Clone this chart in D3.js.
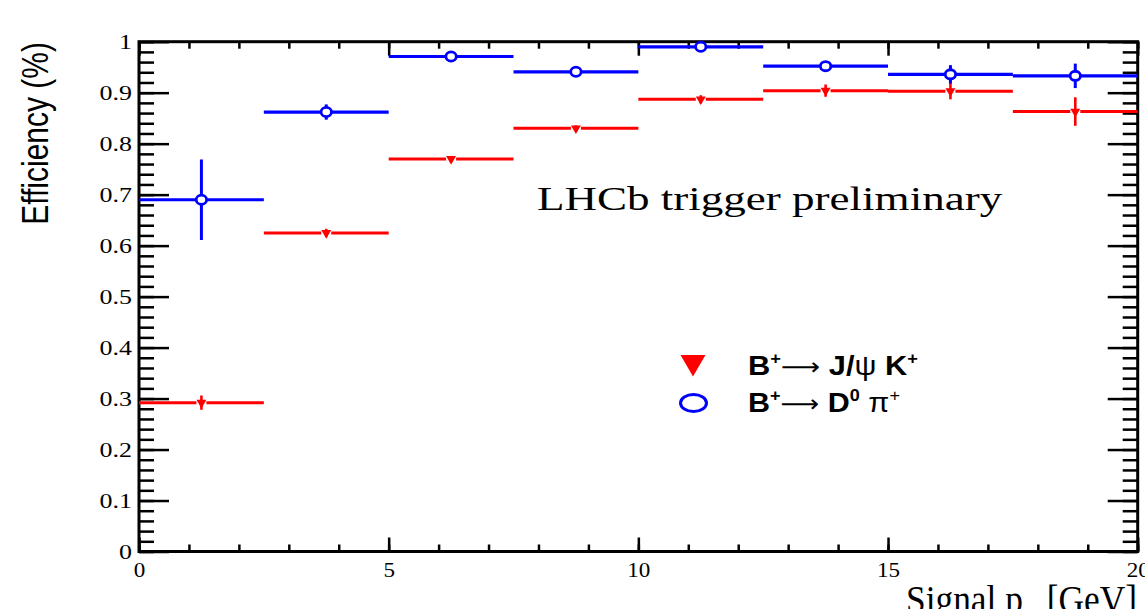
<!DOCTYPE html>
<html>
<head>
<meta charset="utf-8">
<script src="https://cdn.jsdelivr.net/npm/d3@7"></script>
<style>
  html, body { margin: 0; padding: 0; background: #fff; }
  svg { display: block; }
</style>
</head>
<body>
<svg id="chart" width="1145" height="609"></svg>
<script>
// Trigger efficiency vs signal pT, in 2.5 GeV bins
const ptLow  = [0, 2.5, 5, 7.5, 10, 12.5, 15, 17.5];
const ptHigh = [2.5, 5, 7.5, 10, 12.5, 15, 17.5, 20];

// B+ -> J/psi K+
const effJpsiK = [0.292, 0.625, 0.770, 0.830, 0.887, 0.904, 0.903, 0.863];
const errJpsiK = [0.014, 0.008, 0.006, 0.006, 0.008, 0.012, 0.016, 0.028];

// B+ -> D0 pi+
const effD0pi = [0.690, 0.862, 0.971, 0.941, 0.990, 0.952, 0.936, 0.933];
const errD0pi = [0.079, 0.015, 0.006, 0.005, 0.005, 0.006, 0.018, 0.024];

const xMajorTicks = [0, 5, 10, 15, 20];
const yMajorTicks = [0, 0.1, 0.2, 0.3, 0.4, 0.5, 0.6, 0.7, 0.8, 0.9, 1];
const yTickLabels = ["0", "0.1", "0.2", "0.3", "0.4", "0.5", "0.6", "0.7", "0.8", "0.9", "1"];

const svg = d3.select("#chart");
const frame = { left: 139, right: 1137.7, top: 41.7, bottom: 551.5 };

const x = d3.scaleLinear().domain([0, 20]).range([frame.left, frame.right]);
const y = d3.scaleLinear().domain([0, 1]).range([frame.bottom, frame.top]);

const xMinor = d3.range(0, 21, 1);
const yMinor = d3.range(0, 51).map(i => i / 50);

function styleTicks(g) {
  g.select(".domain").remove();
  g.selectAll(".tick line").attr("stroke", "#000").attr("stroke-width", 2.5);
}

const serif = "'Liberation Serif', 'Times New Roman', serif";
const sans = "'Liberation Sans', Arial, Helvetica, sans-serif";

// Axes: ticks pointing inward on all four sides
const axes = svg.append("g");

// bottom
axes.append("g").attr("transform", `translate(0,${frame.bottom})`)
  .call(d3.axisBottom(x).tickValues(xMinor).tickSizeInner(-7).tickSizeOuter(0).tickFormat(""))
  .call(styleTicks);
const xAx = axes.append("g").attr("transform", `translate(0,${frame.bottom})`)
  .call(d3.axisBottom(x).tickValues(xMajorTicks).tickSizeInner(-14).tickSizeOuter(0)
    .tickPadding(10).tickFormat(d3.format("d")))
  .call(styleTicks);
xAx.selectAll(".tick text")
  .attr("fill", "#000").style("font-family", serif).style("font-size", "22px")
  .attr("transform", "scale(1.05,1)");

// top
axes.append("g").attr("transform", `translate(0,${frame.top})`)
  .call(d3.axisTop(x).tickValues(xMinor).tickSizeInner(-7).tickSizeOuter(0).tickFormat(""))
  .call(styleTicks);
axes.append("g").attr("transform", `translate(0,${frame.top})`)
  .call(d3.axisTop(x).tickValues(xMajorTicks).tickSizeInner(-14).tickSizeOuter(0).tickFormat(""))
  .call(styleTicks);

// left
axes.append("g").attr("transform", `translate(${frame.left},0)`)
  .call(d3.axisLeft(y).tickValues(yMinor).tickSizeInner(-15).tickSizeOuter(0).tickFormat(""))
  .call(styleTicks);
const yAx = axes.append("g").attr("transform", `translate(${frame.left},0)`)
  .call(d3.axisLeft(y).tickValues(yMajorTicks).tickSizeInner(-30).tickSizeOuter(0)
    .tickPadding(7).tickFormat((d, i) => yTickLabels[i]))
  .call(styleTicks);
yAx.selectAll(".tick text")
  .attr("fill", "#000").style("font-family", serif).style("font-size", "22px")
  .attr("x", -7 / 1.18)
  .attr("transform", "scale(1.18,1)");

// right
axes.append("g").attr("transform", `translate(${frame.right},0)`)
  .call(d3.axisRight(y).tickValues(yMinor).tickSizeInner(-15).tickSizeOuter(0).tickFormat(""))
  .call(styleTicks);
axes.append("g").attr("transform", `translate(${frame.right},0)`)
  .call(d3.axisRight(y).tickValues(yMajorTicks).tickSizeInner(-30).tickSizeOuter(0).tickFormat(""))
  .call(styleTicks);

// frame
svg.append("rect")
  .attr("x", frame.left).attr("y", frame.top)
  .attr("width", frame.right - frame.left).attr("height", frame.bottom - frame.top)
  .attr("fill", "none").attr("stroke", "#000").attr("stroke-width", 3);

// Series
const red = "#ff0000", blue = "#0000ff";
const binIdx = d3.range(ptLow.length);
const mid = i => (ptLow[i] + ptHigh[i]) / 2;

// J/psi K: horizontal bin bars with gap at marker, vertical error bars, down triangles
const gJ = svg.append("g");
const gap = 5;
gJ.selectAll("line.hl").data(binIdx).join("line")
  .attr("x1", i => x(ptLow[i])).attr("x2", i => x(mid(i)) - gap)
  .attr("y1", i => y(effJpsiK[i])).attr("y2", i => y(effJpsiK[i]))
  .attr("stroke", red).attr("stroke-width", 3);
gJ.selectAll("line.hr").data(binIdx).join("line")
  .attr("x1", i => x(mid(i)) + gap).attr("x2", i => x(ptHigh[i]))
  .attr("y1", i => y(effJpsiK[i])).attr("y2", i => y(effJpsiK[i]))
  .attr("stroke", red).attr("stroke-width", 3);
gJ.selectAll("line.v").data(binIdx).join("line")
  .attr("x1", i => x(mid(i))).attr("x2", i => x(mid(i)))
  .attr("y1", i => y(effJpsiK[i] - errJpsiK[i])).attr("y2", i => y(effJpsiK[i] + errJpsiK[i]))
  .attr("stroke", red).attr("stroke-width", 2.6);
const triSmall = d3.symbol(d3.symbolTriangle, 43)();
gJ.selectAll("path.m").data(binIdx).join("path")
  .attr("d", triSmall)
  .attr("transform", i => `translate(${x(mid(i))},${y(effJpsiK[i])}) rotate(180)`)
  .attr("fill", red);

// D0 pi: bin bars, error bars, open circles
const gD = svg.append("g");
gD.selectAll("line.h").data(binIdx).join("line")
  .attr("x1", i => x(ptLow[i])).attr("x2", i => x(ptHigh[i]))
  .attr("y1", i => y(effD0pi[i])).attr("y2", i => y(effD0pi[i]))
  .attr("stroke", blue).attr("stroke-width", 3.2);
gD.selectAll("line.v").data(binIdx).join("line")
  .attr("x1", i => x(mid(i))).attr("x2", i => x(mid(i)))
  .attr("y1", i => y(effD0pi[i] - errD0pi[i])).attr("y2", i => y(effD0pi[i] + errD0pi[i]))
  .attr("stroke", blue).attr("stroke-width", 3);
gD.selectAll("ellipse").data(binIdx).join("ellipse")
  .attr("cx", i => x(mid(i))).attr("cy", i => y(effD0pi[i]))
  .attr("rx", 5.2).attr("ry", 4.6)
  .attr("fill", "#fff").attr("stroke", blue).attr("stroke-width", 2.8);

// Helper: stretch a text element horizontally to a given width
function fitWidth(sel, x0, baseline, width) {
  const w = sel.node().getBBox().width;
  sel.attr("transform", `translate(${x0},${baseline}) scale(${width / w},1)`);
}

// Label
const lhcb = svg.append("text")
  .attr("x", 0).attr("y", 0)
  .style("font-family", serif).style("font-size", "33px").attr("fill", "#000")
  .text("LHCb trigger preliminary");
fitWidth(lhcb, 537, 210, 466);

// Legend
svg.append("path")
  .attr("d", d3.symbol(d3.symbolTriangle, 269)())
  .attr("transform", "translate(693,362.2) rotate(180)")
  .attr("fill", red);
svg.append("ellipse")
  .attr("cx", 693.5).attr("cy", 403).attr("rx", 13).attr("ry", 8.5)
  .attr("fill", "none").attr("stroke", blue).attr("stroke-width", 3);

function legendText(parts) {
  const t = svg.append("text").attr("x", 0).attr("y", 0)
    .style("font-family", sans).style("font-size", "27px").attr("fill", "#000");
  parts.forEach(p => {
    const ts = t.append("tspan").text(p.s)
      .style("font-weight", p.bold ? "bold" : "normal");
    if (p.font) ts.style("font-family", p.font);
    if (p.size) ts.style("font-size", p.size);
    if (p.sup) ts.attr("dy", -11).style("font-size", "16px");
    if (p.down) ts.attr("dy", 11);
  });
  return t;
}
const arrowFont = "'DejaVu Sans', sans-serif";
const leg1 = legendText([
  { s: "B", bold: true },
  { s: "+", bold: true, sup: true },
  { s: "\u27F6", down: true, font: arrowFont, size: "24px" },
  { s: " J/", bold: true },
  { s: "\u03C8" },
  { s: " K", bold: true },
  { s: "+", bold: true, sup: true }
]);
fitWidth(leg1, 748, 375, 170);
const leg2 = legendText([
  { s: "B", bold: true },
  { s: "+", bold: true, sup: true },
  { s: "\u27F6", down: true, font: arrowFont, size: "24px" },
  { s: " D", bold: true },
  { s: "0", bold: true, sup: true },
  { s: "  \u03C0", down: true },
  { s: "+", sup: true }
]);
fitWidth(leg2, 748, 411.5, 152);

// Axis titles
svg.append("text")
  .attr("transform", "translate(48,42) scale(1.2,1) rotate(-90)")
  .attr("text-anchor", "end")
  .style("font-family", sans).style("font-size", "30px").attr("fill", "#000")
  .text("Efficiency (%)");

const xt = svg.append("text").attr("x", 0).attr("y", 0)
  .style("font-family", serif).style("font-size", "39px").attr("fill", "#000");
xt.append("tspan").text("Signal p");
xt.append("tspan").attr("dy", 14).style("font-size", "27px").text("T");
xt.append("tspan").attr("dy", -14).text(" [GeV]");
fitWidth(xt, 906, 613, 231);
</script>
</body>
</html>
